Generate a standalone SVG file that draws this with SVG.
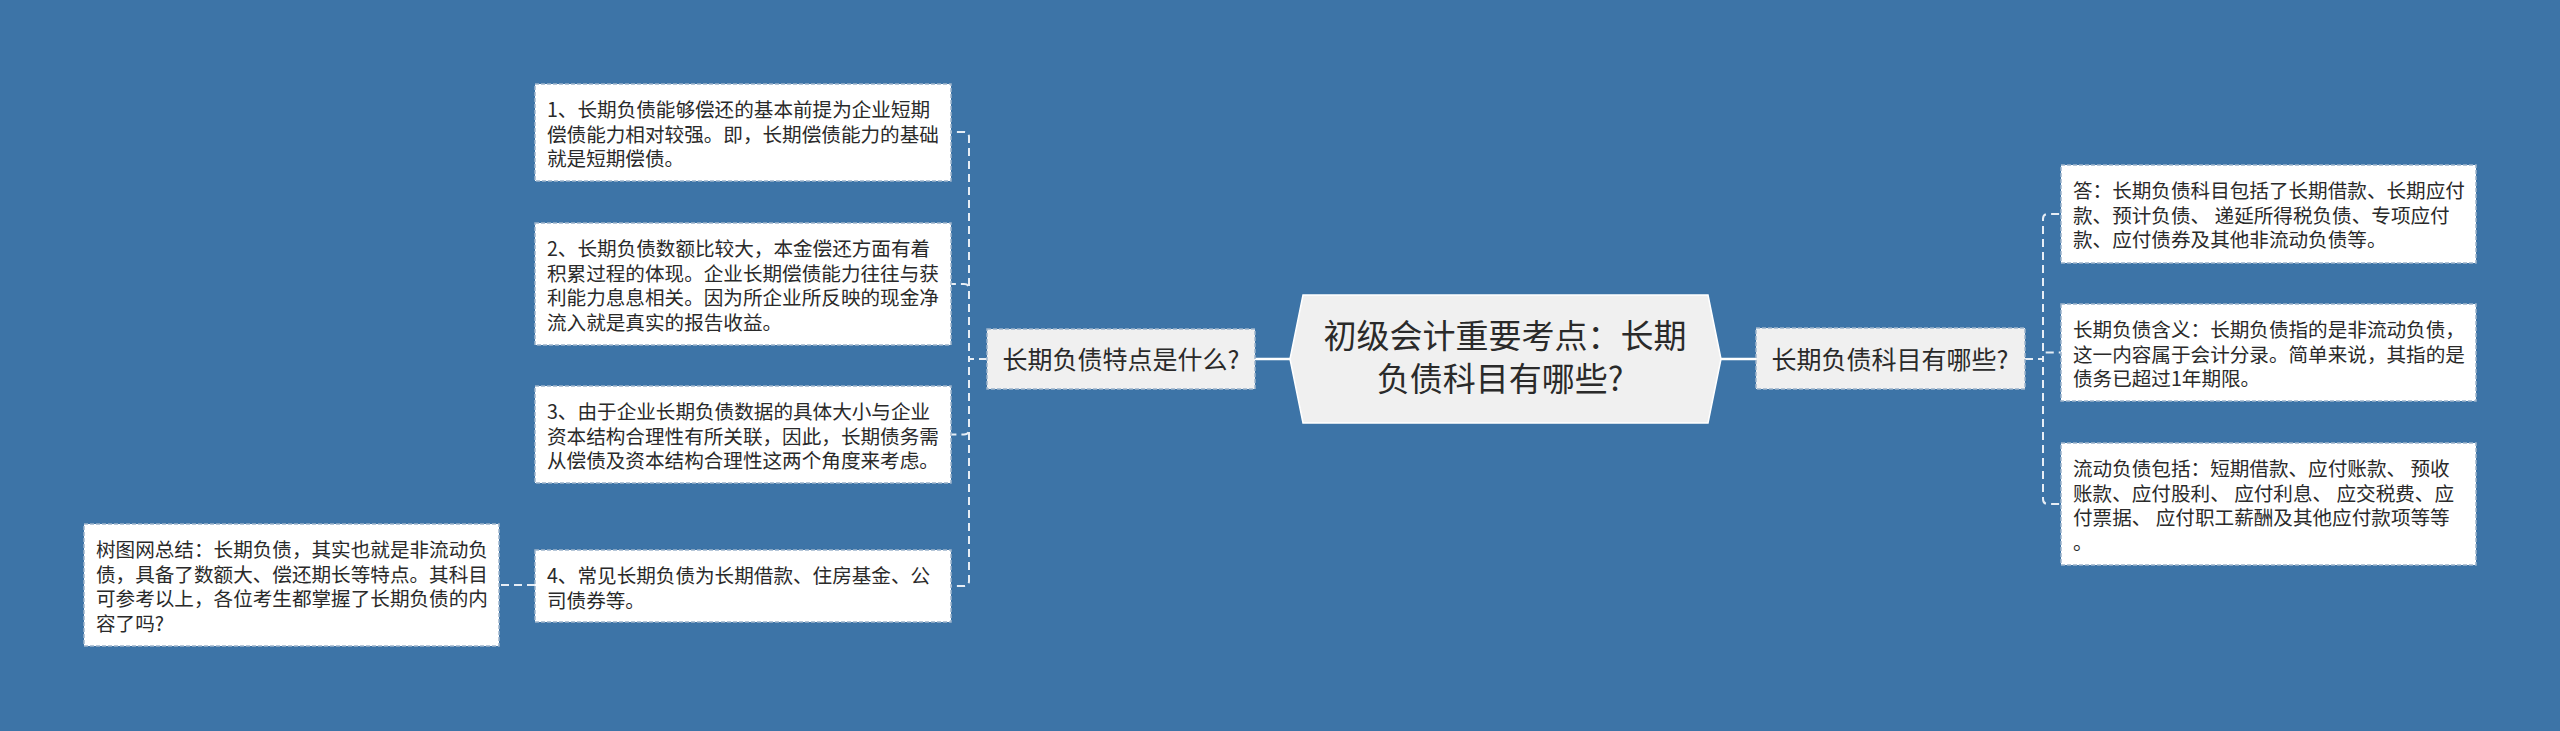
<svg xmlns="http://www.w3.org/2000/svg" width="2560" height="731" viewBox="0 0 2560 731">
<defs>
<style>
.bg{fill:#3d74a7}
.leaf{fill:#ffffff;stroke:#9db4cc;stroke-width:1.5;stroke-dasharray:4 2}
.sub{fill:#f0f0f0;stroke:#9db4cc;stroke-width:1.5;stroke-dasharray:4 2}
.root{fill:#f0f0f0;stroke:#ffffff;stroke-width:1.5}
.t{font-family:"Noto Sans CJK SC","Noto Sans",sans-serif;font-size:19.6px;fill:#2a2a2a}
.ts{font-family:"Noto Sans CJK SC","Noto Sans",sans-serif;font-size:25px;fill:#2a2a2a}
.tr{font-family:"Noto Sans CJK SC","Noto Sans",sans-serif;font-size:33px;fill:#2a2a2a}
.dash{fill:none;stroke:#e6edf5;stroke-width:2;stroke-dasharray:8 5}
.solid{fill:none;stroke:#ffffff;stroke-width:2.5}
</style>
</defs>
<rect class="bg" x="0" y="0" width="2560" height="731"/>
<g id="connectors">
<path class="solid" d="M1255 359 H1290"/>
<path class="solid" d="M1721 359 H1756"/>
<path class="dash" d="M987 359 H969 V137 Q969 132 964 132 H951"/>
<path class="dash" d="M987 359 H969 V289 Q969 284 964 284 H951"/>
<path class="dash" d="M987 359 H969 V429.5 Q969 434.5 964 434.5 H951"/>
<path class="dash" d="M987 359 H969 V581 Q969 586 964 586 H951"/>
<path class="dash" d="M535 585 H499"/>
<path class="dash" d="M2025 359 H2043 V219 Q2043 214 2048 214 H2061"/>
<path class="dash" d="M2025 359 H2043 V355.5 Q2043 352.5 2046 352.5 H2061"/>
<path class="dash" d="M2025 359 H2043 V499 Q2043 504 2048 504 H2061"/>
</g>
<g id="root">
<polygon class="root" points="1303,295 1708,295 1721,359 1708,423 1303,423 1290,359"/>
<text class="tr" text-anchor="middle"><tspan x="1505" y="348">初级会计重要考点：长期</tspan><tspan x="1500" y="391">负债科目有哪些?</tspan></text>
</g>
<g id="left-sub">
<rect class="sub" x="987" y="329" width="268" height="60"/>
<text class="ts" x="1121" y="369" text-anchor="middle">长期负债特点是什么?</text>
</g>
<g id="right-sub">
<rect class="sub" x="1756" y="328" width="269" height="61"/>
<text class="ts" x="1890" y="369" text-anchor="middle">长期负债科目有哪些?</text>
</g>
<g id="left-1">
<rect class="leaf" x="535" y="84" width="416" height="97"/>
<text class="t"><tspan x="547" y="117">1、长期负债能够偿还的基本前提为企业短期</tspan><tspan x="547" y="141.5">偿债能力相对较强。即，长期偿债能力的基础</tspan><tspan x="547" y="166">就是短期偿债。</tspan></text>
</g>
<g id="left-2">
<rect class="leaf" x="535" y="223" width="416" height="122"/>
<text class="t"><tspan x="547" y="256">2、长期负债数额比较大，本金偿还方面有着</tspan><tspan x="547" y="280.5">积累过程的体现。企业长期偿债能力往往与获</tspan><tspan x="547" y="305">利能力息息相关。因为所企业所反映的现金净</tspan><tspan x="547" y="329.5">流入就是真实的报告收益。</tspan></text>
</g>
<g id="left-3">
<rect class="leaf" x="535" y="386" width="416" height="97"/>
<text class="t"><tspan x="547" y="419">3、由于企业长期负债数据的具体大小与企业</tspan><tspan x="547" y="443.5">资本结构合理性有所关联，因此，长期债务需</tspan><tspan x="547" y="468">从偿债及资本结构合理性这两个角度来考虑。</tspan></text>
</g>
<g id="left-4">
<rect class="leaf" x="535" y="550" width="416" height="72"/>
<text class="t"><tspan x="547" y="583">4、常见长期负债为长期借款、住房基金、公</tspan><tspan x="547" y="607.5">司债券等。</tspan></text>
</g>
<g id="summary">
<rect class="leaf" x="84" y="524" width="415" height="122"/>
<text class="t"><tspan x="96" y="557">树图网总结：长期负债，其实也就是非流动负</tspan><tspan x="96" y="581.5">债，具备了数额大、偿还期长等特点。其科目</tspan><tspan x="96" y="606">可参考以上，各位考生都掌握了长期负债的内</tspan><tspan x="96" y="630.5">容了吗?</tspan></text>
</g>
<g id="right-1">
<rect class="leaf" x="2061" y="165" width="415" height="98"/>
<text class="t"><tspan x="2073" y="198">答：长期负债科目包括了长期借款、长期应付</tspan><tspan x="2073" y="222.5">款、预计负债、 递延所得税负债、专项应付</tspan><tspan x="2073" y="247">款、应付债券及其他非流动负债等。</tspan></text>
</g>
<g id="right-2">
<rect class="leaf" x="2061" y="304" width="415" height="97"/>
<text class="t"><tspan x="2073" y="337">长期负债含义：长期负债指的是非流动负债，</tspan><tspan x="2073" y="361.5">这一内容属于会计分录。简单来说，其指的是</tspan><tspan x="2073" y="386">债务已超过1年期限。</tspan></text>
</g>
<g id="right-3">
<rect class="leaf" x="2061" y="443" width="415" height="122"/>
<text class="t"><tspan x="2073" y="476">流动负债包括：短期借款、应付账款、 预收</tspan><tspan x="2073" y="500.5">账款、应付股利、 应付利息、 应交税费、应</tspan><tspan x="2073" y="525">付票据、 应付职工薪酬及其他应付款项等等</tspan><tspan x="2073" y="549.5">。</tspan></text>
</g>
</svg>
